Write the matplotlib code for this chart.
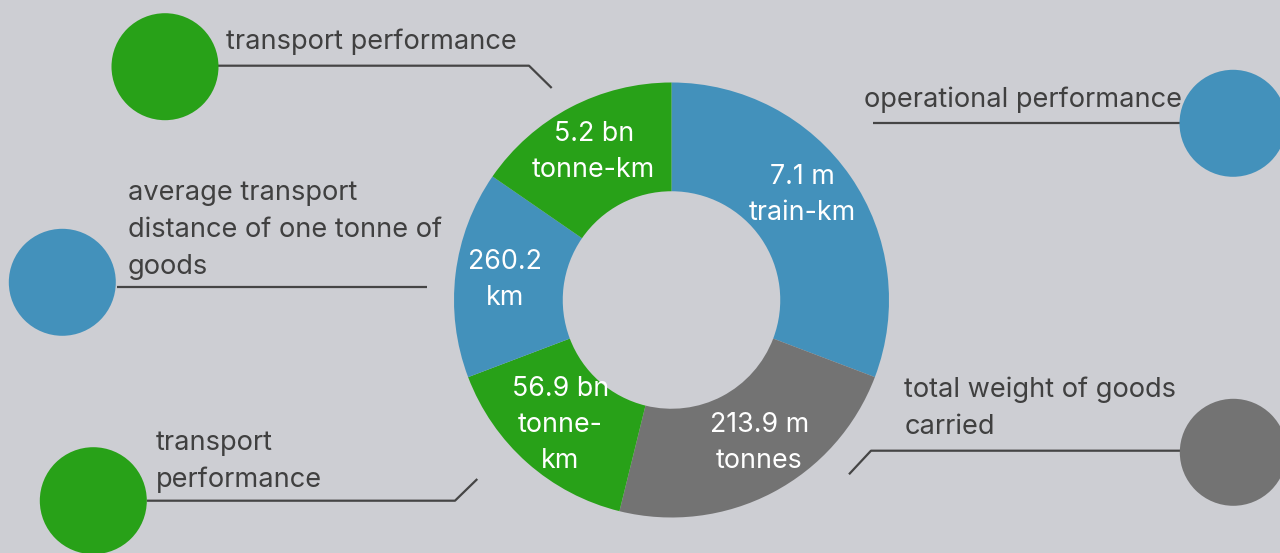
import numpy as np
import matplotlib
matplotlib.use("Agg")
import matplotlib.pyplot as plt
from matplotlib.patches import Circle

W, H = 1280, 553
BG = "#cdced3"
BLUE = "#4391bb"
GREEN = "#28a118"
GREY = "#737373"
INK = "#404040"
LINE = "#454545"

# ring segments, clockwise from 12 o'clock (equal-ish design shares, not value-scaled)
seg_values = ["7.1 m\ntrain-km", "213.9 m\ntonnes", "56.9 bn\ntonne-\nkm", "260.2\nkm", "5.2 bn\ntonne-km"]
seg_shares = [2, 1.5, 1, 1, 1]
seg_colors = [BLUE, GREY, GREEN, BLUE, GREEN]

# callouts
callout_text = ["transport performance", "operational performance",
                "average transport\ndistance of one tonne of\ngoods",
                "transport\nperformance", "total weight of goods\ncarried"]
callout_colors = [GREEN, BLUE, BLUE, GREEN, GREY]

plt.rcParams["font.family"] = ["Inter", "DejaVu Sans"]

fig = plt.figure(figsize=(W / 100, H / 100), dpi=100, facecolor=BG)
ax = fig.add_axes([0, 0, 1, 1])


def Y(y):
    # picture rows measured from the top
    return H - y


cx, cy, R = 671.5, Y(300), 217.5
wedges, _ = ax.pie(seg_shares, colors=seg_colors, startangle=90, counterclock=False,
                   center=(cx, cy), radius=R, frame=True,
                   wedgeprops=dict(width=R * 0.5, linewidth=0))
ax.set_xlim(0, W)
ax.set_ylim(0, H)
ax.set_aspect("equal")
ax.axis("off")

# labels near the ring's mid radius; right-hand ones sit a little counter-clockwise
for w, txt in zip(wedges, seg_values):
    mid = (w.theta1 + w.theta2) / 2
    if mid > -90:
        mid += 4
    a = np.deg2rad(mid)
    r = R * 0.77
    ax.text(cx + r * np.cos(a), cy + r * np.sin(a), txt, ha="center", va="center",
            color="white", fontsize=19.3, linespacing=1.5)

# callout geometry: circle centre, baseline of last text line, leader path
circles = [(165, 66.7), (1233, 123.3), (62.3, 282.3), (93.3, 500.7), (1233.3, 452.3)]
text_pos = [(226.5, 49.3), (864, 106.7), (127.7, 274.3), (156, 487.3), (904.3, 434)]
leaders = [
    [(218, 65.7), (529, 65.7), (551.7, 88)],
    [(872.7, 122.7), (1180, 122.7)],
    [(116.7, 287), (427, 287)],
    [(146.7, 500.7), (455, 500.7), (477.3, 479)],
    [(1180, 450.7), (871, 450.7), (849, 474.3)],
]

for (x, y), pts, col in zip(circles, leaders, callout_colors):
    xs, ys = zip(*pts)
    ax.plot(xs, [Y(v) for v in ys], color=LINE, lw=1.6, solid_capstyle="butt", zorder=2)
    ax.add_patch(Circle((x, Y(y)), 53.5, facecolor=col, edgecolor="none", zorder=4))

for (tx, ty), txt in zip(text_pos, callout_text):
    ax.text(tx, Y(ty), txt, ha="left", va="baseline", color=INK, fontsize=19.6,
            linespacing=1.55, zorder=3)

fig.savefig("out.png", dpi=100, facecolor=BG)
